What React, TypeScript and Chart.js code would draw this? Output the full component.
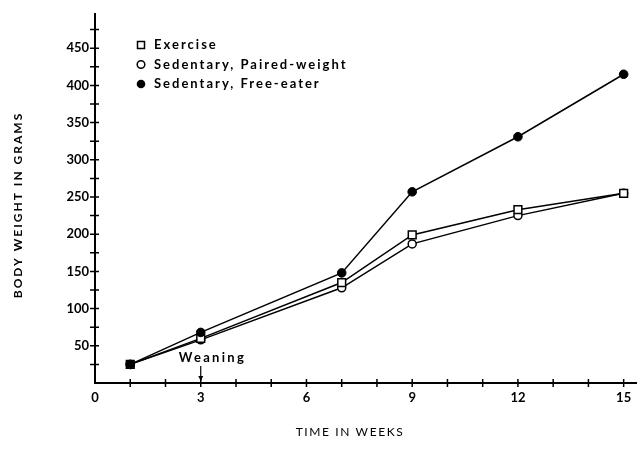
import React, { useEffect, useRef } from 'react';
import { Chart, registerables } from 'chart.js';

Chart.register(...registerables);

const weeks = [1, 3, 7, 9, 12, 15];
const exercise = [25, 60, 135, 199, 233, 255];
const pairedWeight = [25, 58, 128, 187, 225, 255];
const freeEater = [25, 68, 148, 257, 331, 415];
const seriesLabels = ['Exercise', 'Sedentary, Paired-weight', 'Sedentary, Free-eater'];
const yTickLabels = [50, 100, 150, 200, 250, 300, 350, 400, 450];
const xTickLabels = [0, 3, 6, 9, 12, 15];
const yTitle = 'BODY WEIGHT IN GRAMS';
const xTitle = 'TIME IN WEEKS';
const annotationText = 'Weaning';
const annotationWeek = 3;

const FONT = 'Lato';

const tickMarksPlugin = {
  id: 'crossTicks',
  afterDraw(chart: any) {
    const { ctx, chartArea } = chart;
    const xs = chart.scales.x;
    const ys = chart.scales.y;
    ctx.save();
    ctx.strokeStyle = '#000';
    ctx.lineWidth = 1.5;
    ctx.beginPath();
    xs.ticks.forEach((t: any) => {
      if (t.value === 0) return;
      const px = xs.getPixelForValue(t.value);
      ctx.moveTo(px, chartArea.bottom - 4);
      ctx.lineTo(px, chartArea.bottom + 4);
    });
    ys.ticks.forEach((t: any) => {
      if (t.value === 0) return;
      const py = ys.getPixelForValue(t.value);
      ctx.moveTo(chartArea.left - 5, py);
      ctx.lineTo(chartArea.left + 4, py);
    });
    ctx.stroke();
    ctx.restore();
  },
};

const textPlugin = {
  id: 'texts',
  afterDraw(chart: any) {
    const { ctx, chartArea } = chart;
    const xs = chart.scales.x;
    ctx.save();
    ctx.fillStyle = '#000';
    ctx.strokeStyle = '#000';

    // Y title
    ctx.save();
    ctx.font = `bold 12px ${FONT}`;
    (ctx as any).letterSpacing = '2px';
    ctx.translate(18, 205);
    ctx.rotate(-Math.PI / 2);
    ctx.textAlign = 'center';
    ctx.textBaseline = 'middle';
    ctx.fillText(yTitle, 0, 0);
    ctx.restore();

    // X title
    ctx.save();
    ctx.font = `12px ${FONT}`;
    (ctx as any).letterSpacing = '1.6px';
    ctx.textAlign = 'center';
    ctx.textBaseline = 'middle';
    ctx.fillText(xTitle, 350, 432);
    ctx.restore();

    // Legend
    const markers = ['rect', 'circleOpen', 'circleFilled'];
    ctx.save();
    ctx.font = `bold 13px ${FONT}`;
    (ctx as any).letterSpacing = '2px';
    ctx.textAlign = 'left';
    ctx.textBaseline = 'middle';
    ctx.lineWidth = 1.5;
    seriesLabels.forEach((label, i) => {
      const y = 45 + i * 19.5;
      const mx = 141;
      const m = markers[i];
      ctx.beginPath();
      if (m === 'rect') {
        ctx.fillStyle = '#fff';
        ctx.rect(mx - 3.5, y - 3.5, 7, 7);
        ctx.fill();
        ctx.stroke();
      } else if (m === 'circleOpen') {
        ctx.fillStyle = '#fff';
        ctx.arc(mx, y, 3.8, 0, Math.PI * 2);
        ctx.fill();
        ctx.stroke();
      } else {
        ctx.fillStyle = '#000';
        ctx.arc(mx, y, 4.3, 0, Math.PI * 2);
        ctx.fill();
      }
      ctx.fillStyle = '#000';
      ctx.fillText(label, 154, y);
    });
    ctx.restore();

    // Weaning annotation
    const wx = xs.getPixelForValue(annotationWeek);
    ctx.save();
    ctx.font = `bold 13px ${FONT}`;
    (ctx as any).letterSpacing = '2.3px';
    ctx.textAlign = 'left';
    ctx.textBaseline = 'middle';
    ctx.fillText(annotationText, wx - 22, 358);
    ctx.lineWidth = 1.2;
    ctx.beginPath();
    ctx.moveTo(wx, 366);
    ctx.lineTo(wx, chartArea.bottom - 2);
    ctx.stroke();
    ctx.beginPath();
    ctx.moveTo(wx - 2.5, chartArea.bottom - 7);
    ctx.lineTo(wx + 2.5, chartArea.bottom - 7);
    ctx.lineTo(wx, chartArea.bottom - 2);
    ctx.closePath();
    ctx.fill();
    ctx.restore();

    ctx.restore();
  },
};

export default function App() {
  const canvasRef = useRef<HTMLCanvasElement | null>(null);

  useEffect(() => {
    if (!canvasRef.current) return;
    const toPts = (arr: number[]) => weeks.map((w, i) => ({ x: w, y: arr[i] }));
    const tickFont = { family: FONT, size: 13, weight: 'bold' as const };
    const chart = new Chart(canvasRef.current, {
      type: 'line',
      data: {
        datasets: [
          {
            label: seriesLabels[2],
            data: toPts(freeEater),
            borderColor: '#000',
            borderWidth: 1.5,
            pointStyle: 'circle',
            pointRadius: 4.3,
            pointBackgroundColor: '#000',
            pointBorderColor: '#000',
            pointBorderWidth: 1,
            tension: 0,
          },
          {
            label: seriesLabels[0],
            data: toPts(exercise),
            borderColor: '#000',
            borderWidth: 1.5,
            pointStyle: 'rect',
            pointRadius: 5.5,
            pointBackgroundColor: '#fff',
            pointBorderColor: '#000',
            pointBorderWidth: 1.5,
            tension: 0,
          },
          {
            label: seriesLabels[1],
            data: toPts(pairedWeight),
            borderColor: '#000',
            borderWidth: 1.5,
            pointStyle: 'circle',
            pointRadius: 4,
            pointBackgroundColor: '#fff',
            pointBorderColor: '#000',
            pointBorderWidth: 1.5,
            tension: 0,
          },
        ],
      },
      options: {
        responsive: false,
        animation: false,
        layout: { padding: { top: 14, right: 0, left: 0, bottom: 0 } },
        plugins: {
          legend: { display: false },
          tooltip: { enabled: false },
        },
        scales: {
          x: {
            type: 'linear',
            min: 0,
            max: 15.35,
            ticks: {
              stepSize: 1,
              includeBounds: false,
              autoSkip: false,
              maxRotation: 0,
              padding: 7,
              color: '#000',
              font: tickFont,
              callback: (v: any) => (xTickLabels.includes(Number(v)) ? String(v) : ''),
            },
            grid: { display: false, drawTicks: false },
            border: { display: true, color: '#000', width: 2 },
            afterFit: (s: any) => {
              s.height = 73;
            },
          },
          y: {
            type: 'linear',
            min: 0,
            max: 496,
            ticks: {
              stepSize: 25,
              includeBounds: false,
              autoSkip: false,
              padding: 6,
              color: '#000',
              font: tickFont,
              callback: (v: any) => (yTickLabels.includes(Number(v)) ? String(v) : ''),
            },
            grid: { display: false, drawTicks: false },
            border: { display: true, color: '#000', width: 2 },
            afterFit: (s: any) => {
              s.width = 95;
            },
          },
        },
      },
      plugins: [tickMarksPlugin, textPlugin],
    });
    return () => chart.destroy();
  }, []);

  return (
    <div style={{ position: 'absolute', left: 0, top: 0, width: 643, height: 456, background: '#fff' }}>
      <canvas ref={canvasRef} width={643} height={456} style={{ display: 'block' }} />
    </div>
  );
}
